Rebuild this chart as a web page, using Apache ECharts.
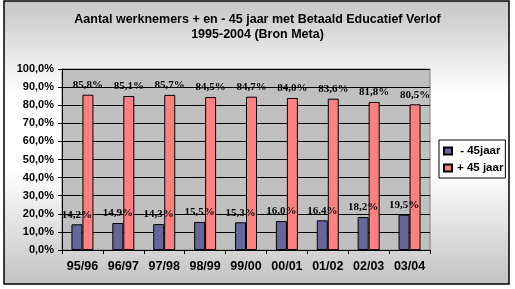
<!DOCTYPE html>
<html><head><meta charset="utf-8">
<script src="https://cdn.jsdelivr.net/npm/echarts@6/dist/echarts.min.js"></script>
<style>html,body{margin:0;padding:0;background:#fff}#c{width:515px;height:289px}</style>
</head><body><div id="c"></div>
<script>
var categories = ['95/96','96/97','97/98','98/99','99/00','00/01','01/02','02/03','03/04'];
var under45 = [14.2,14.9,14.3,15.5,15.3,16.0,16.4,18.2,19.5];
var over45 = [85.8,85.1,85.7,84.5,84.7,84.0,83.6,81.8,80.5];
var seriesNames = ['- 45jaar','+ 45 jaar'];
var yTicks = {min:0, max:100, interval:10};

function pct(v){ return v.toFixed(1).replace('.',',') + '%'; }
var chart = echarts.init(document.getElementById('c'), null, {renderer:'canvas'});
var labelStyle = {show:true, position:'top', distance:4, color:'#000', fontFamily:'Liberation Serif', fontWeight:'bold', fontSize:11,
  formatter:function(p){return pct(p.value);}};
chart.setOption({
  animation:false,
  graphic:[{type:'rect', z:-10, silent:true, shape:{x:4,y:1,width:505,height:283},
    style:{fill:new echarts.graphic.LinearGradient(0,0,0,1,[
      {offset:0,color:'#c6c6c6'},{offset:0.33,color:'#ffffff'},{offset:0.6,color:'#ffffff'},{offset:1,color:'#c2c2c2'}]),
      stroke:'#000', lineWidth:1.5}}],
  title:{text:'Aantal werknemers + en - 45 jaar met Betaald Educatief Verlof\n1995-2004 (Bron Meta)', left:'center', top:7,
    textStyle:{fontFamily:'Liberation Sans', fontWeight:'bold', fontSize:12.5, lineHeight:15, color:'#000'}},
  legend:{orient:'vertical', left:439, top:140, backgroundColor:'#fff', borderColor:'#000', borderWidth:1,
    padding:[5,2,4,4], itemWidth:8, itemHeight:7, itemGap:5, icon:'rect',
    formatter:function(n){return n===seriesNames[0] ? ' ' + n : n;},
    textStyle:{fontFamily:'Liberation Sans', fontWeight:'bold', fontSize:11.5, color:'#000'},
    data:seriesNames},
  grid:{left:62, right:85, top:69, bottom:39, show:true, backgroundColor:'#c0c0c0', borderColor:'#808080', borderWidth:1},
  xAxis:{type:'category', data:categories,
    axisLine:{lineStyle:{color:'#000'}}, axisTick:{show:true, length:4, lineStyle:{color:'#000'}},
    axisLabel:{color:'#000', fontFamily:'Liberation Sans', fontWeight:'bold', fontSize:12.5, margin:10}},
  yAxis:{type:'value', min:yTicks.min, max:yTicks.max, interval:yTicks.interval,
    axisLine:{show:true, lineStyle:{color:'#000'}}, axisTick:{show:true, length:4, lineStyle:{color:'#000'}},
    splitLine:{lineStyle:{color:'#000'}},
    axisLabel:{color:'#000', fontFamily:'Liberation Sans', fontWeight:'bold', fontSize:11, margin:8, formatter:function(v){return pct(v);}}},
  series:[
    {name:seriesNames[0], type:'bar', data:under45, barWidth:11, barGap:'0%',
      itemStyle:{color:'#666699', borderColor:'#000', borderWidth:1}, label:labelStyle},
    {name:seriesNames[1], type:'bar', data:over45, barWidth:11, barGap:'0%',
      itemStyle:{color:'#ff8080', borderColor:'#000', borderWidth:1}, label:labelStyle}
  ]
});
</script></body></html>
